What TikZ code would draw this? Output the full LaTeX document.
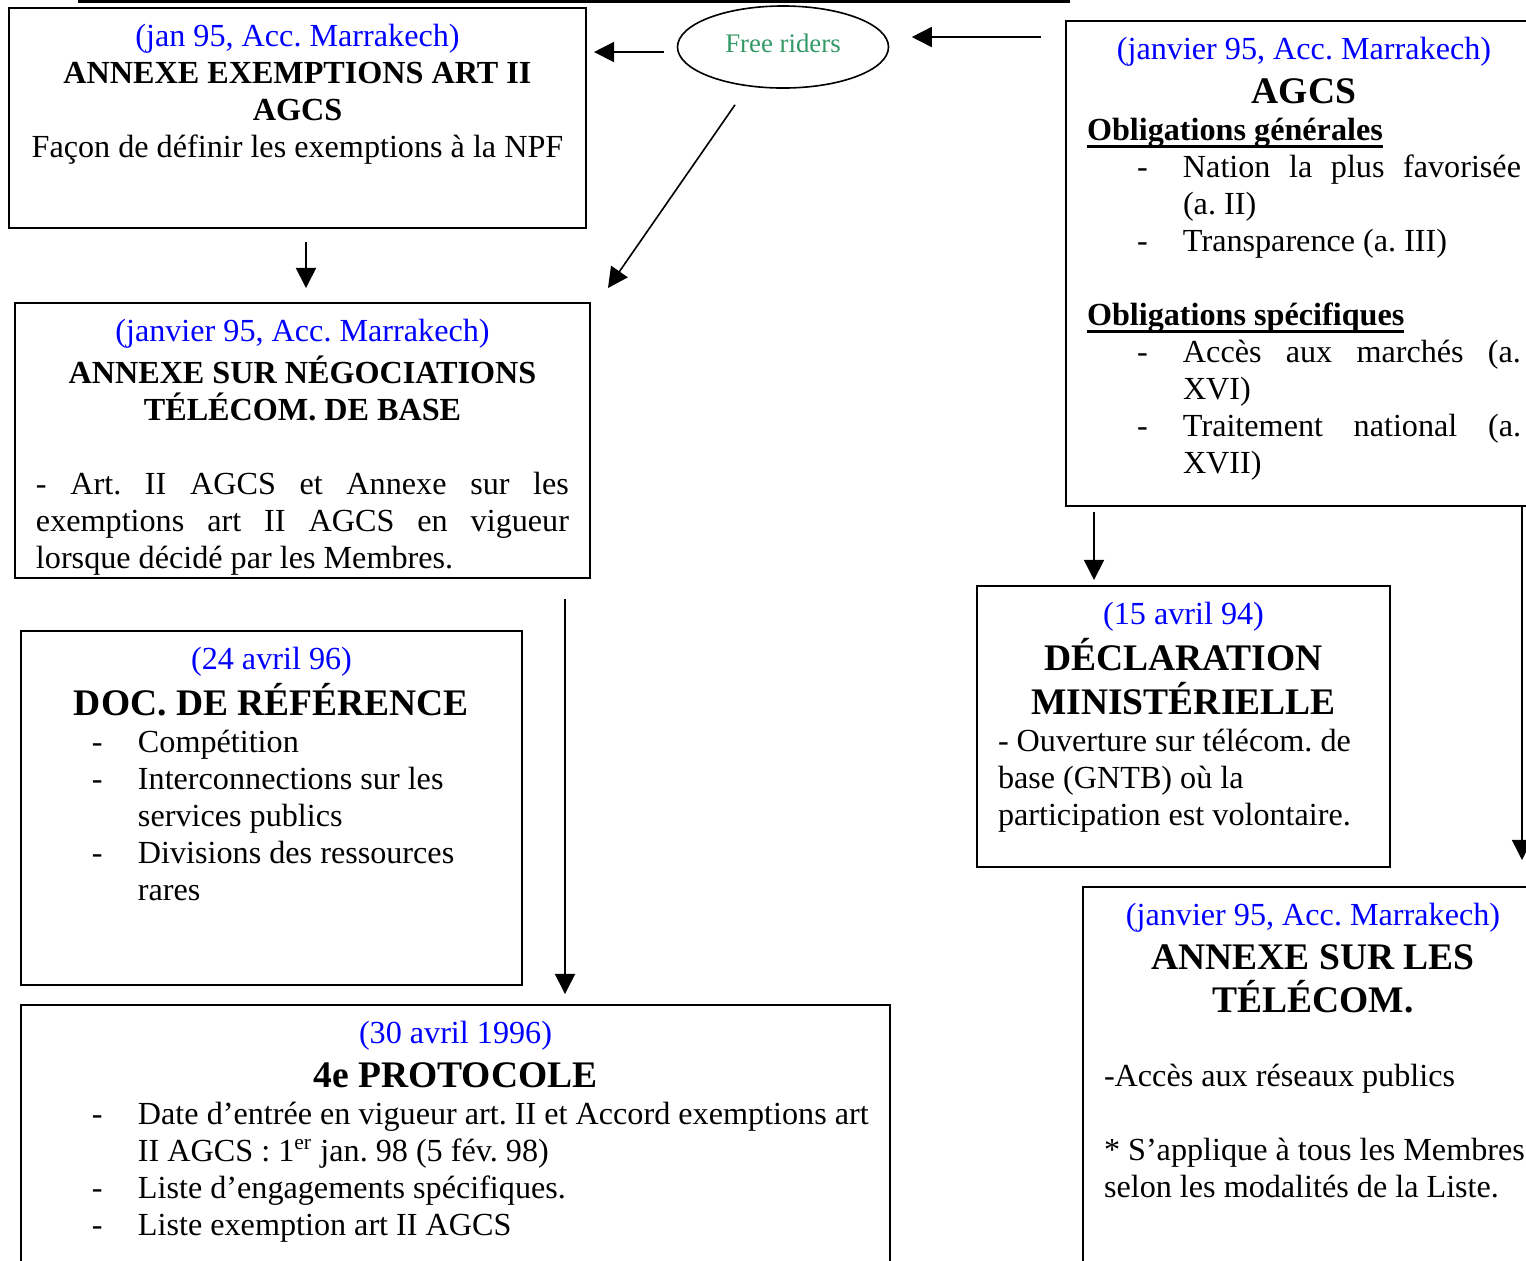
\documentclass[tikz,border=0pt]{standalone}
\usepackage{fontspec}
\setmainfont{Liberation Serif}
\usetikzlibrary{arrows.meta,shapes.geometric,calc,positioning}

\newlength\px \setlength\px{0.373pt}
\definecolor{datebleu}{RGB}{0,0,255}
\definecolor{vertfree}{RGB}{51,153,102}

\newcommand\quand[1]{{\centering\color{datebleu}\strut#1\par}}
\newcommand\titre[1]{{\centering\bfseries#1\par}}
\newcommand\grandtitre[1]{{\centering\fontsize{14pt}{16.1pt}\selectfont\bfseries#1\par}}
\newcommand\souligne[1]{\par\noindent\setbox0=\hbox{\bfseries#1}\rlap{\rule[-3.1pt]{\wd0}{1.1pt}}\box0\par}
\newcommand\tiret[1]{\par\hangindent=96\px\hangafter=1\noindent\makebox[96\px][l]{\hspace{50\px}-}#1\par}
\newcommand\blanc{\vspace{\baselineskip}}
\newcommand\contenu[3]{\begin{minipage}[t][#2\px][t]{#1\px}\fontsize{12pt}{13.8pt}\selectfont\frenchspacing#3\end{minipage}}

\begin{document}
\begin{tikzpicture}[x=\px,y=-\px,>={Triangle[length=7.5pt,width=7.5pt]},semithick]
  \tikzstyle{cadre}=[draw=black,line width=0.75pt,anchor=north west,inner xsep=7.83pt,inner ysep=4.85pt]
  \tikzstyle{bulle}=[ellipse,draw=black,line width=0.6pt,minimum width=78.7pt,minimum height=30.6pt,inner sep=0pt,text depth=3pt,text=vertfree,font=\fontsize{10pt}{12pt}\selectfont]

  \useasboundingbox (0,0) rectangle (1526,1260);
  \clip (0,0) rectangle (1526,1260);

  \draw[line width=1pt] (78,1.3) -- (1070,1.3);

  \node[bulle] (free) at (783,47) {Free riders};

  \node[cadre] (exem) at (8,7) {\contenu{535}{194}{%
    \quand{(jan 95, Acc. Marrakech)}
    \titre{ANNEXE EXEMPTIONS ART II\\AGCS}
    {\centering Façon de définir les exemptions à la NPF\par}}};

  \node[cadre] (nego) at (14,302) {\contenu{533}{249}{%
    \quand{(janvier 95, Acc. Marrakech)}
    \titre{ANNEXE SUR NÉGOCIATIONS\\TÉLÉCOM. DE BASE}
    \blanc
    - Art. II AGCS et Annexe sur les\linebreak exemptions art II AGCS en vigueur\linebreak lorsque décidé par les Membres.\par}};

  \node[cadre] (agcs) at (1065,20) {\contenu{434}{459}{%
    \quand{(janvier 95, Acc. Marrakech)}
    \grandtitre{AGCS}
    \souligne{Obligations générales}
    \tiret{Nation la plus favorisée\linebreak (a. II)}
    \tiret{Transparence (a. III)}
    \blanc
    \souligne{Obligations spécifiques}
    \tiret{Accès aux marchés (a.\linebreak XVI)}
    \tiret{Traitement national (a.\linebreak XVII)}}};

  \node[cadre] (decl) at (976,585) {\contenu{371}{255}{%
    \quand{(15 avril 94)}
    \grandtitre{DÉCLARATION\\MINISTÉRIELLE}
    {\raggedright - Ouverture sur télécom. de\\base (GNTB) où la\\participation est volontaire.\par}}};

  \node[cadre] (doc) at (20,630) {\contenu{459}{328}{%
    \quand{(24 avril 96)}
    \grandtitre{DOC. DE RÉFÉRENCE}
    {\raggedright
    \tiret{Compétition}
    \tiret{Interconnections sur les\newline services publics}
    \tiret{Divisions des ressources\newline rares}}}};

  \node[cadre] (proto) at (20,1004) {\contenu{827}{274}{%
    \quand{(30 avril 1996)}
    \grandtitre{4e PROTOCOLE}
    {\raggedright
    \tiret{\mbox{Date d’entrée en vigueur art. II et Accord exemptions art}\newline II AGCS : 1\textsuperscript{er} jan. 98 (5 fév. 98)}
    \tiret{Liste d’engagements spécifiques.}
    \tiret{Liste exemption art II AGCS}}}};

  \node[cadre] (telecom) at (1082,886) {\contenu{418}{374}{%
    \quand{(janvier 95, Acc. Marrakech)}
    \grandtitre{ANNEXE SUR LES\\TÉLÉCOM.}
    \blanc
    {\raggedright -Accès aux réseaux publics\par
    \blanc
    \mbox{* S’applique à tous les Membres}\\selon les modalités de la Liste.\par}}};

  \coordinate (fg) at ([yshift=-1.87pt]free.west);
  \coordinate (fd) at ([yshift=3.73pt]free.east);
  \coordinate (eb) at ([xshift=3.17pt]exem.south);
  \coordinate (nb) at ([xshift=-9.7pt]nego.south east);
  \coordinate (ab) at ([xshift=10.82pt]agcs.south west);
  \coordinate (ac) at ([xshift=170.46pt]agcs.south west);

  \draw[->,shorten <=4.85pt,shorten >=2.61pt] (fg) -- (fg -| exem.east);
  \draw[->,shorten <=8.95pt,shorten >=8.39pt] (fd -| agcs.west) -- (fd);
  \draw[->] ($(free.south)+(-48,16)$) -- ($(nego.north east)+(17,-14)$);
  \draw[->,shorten <=4.85pt,shorten >=5.22pt] (eb) -- (eb |- nego.north);
  \draw[->,shorten <=7.46pt,shorten >=3.73pt] (nb) -- (nb |- proto.north);
  \draw[->,shorten <=1.87pt,shorten >=1.87pt] (ab) -- (ab |- decl.north);
  \draw[->,shorten >=9.7pt] (ac) -- (ac |- telecom.north);
\end{tikzpicture}
\end{document}
